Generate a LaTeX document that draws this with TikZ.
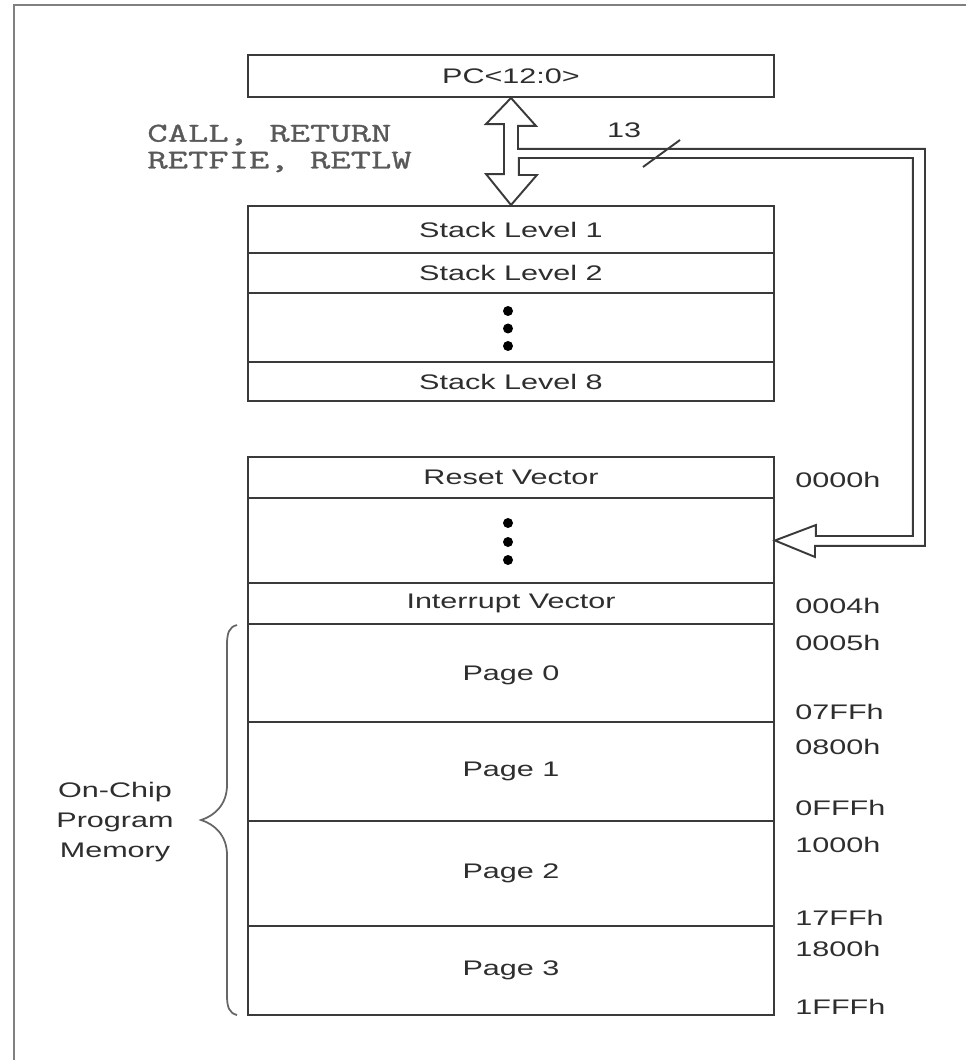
\documentclass[tikz,border=0pt]{standalone}
\usepackage{fontspec}
\setmainfont{Liberation Sans}[FakeStretch=1.45]
\newfontfamily\monof{Latin Modern Mono}[FakeStretch=1.45,FakeBold=1.2]
\usetikzlibrary{calc}
\definecolor{ink}{HTML}{3A3A3A}
\definecolor{txt}{HTML}{2E2E2E}
\begin{document}
\begin{tikzpicture}[x=0.02cm,y=0.02cm,
  row/.style={draw=ink, line width=1.1pt, minimum width=10.52cm, inner sep=0pt,
    font=\fontsize{12}{14}\selectfont, text=txt},
  addr/.style={anchor=west, inner sep=0pt, font=\fontsize{12}{14}\selectfont, text=txt},
  mono/.style={anchor=west, inner sep=0pt, font=\monof\fontsize{15.5}{17}\selectfont, text=black!65},
  dotc/.style={fill=black, draw=none}]
\useasboundingbox (0,0) rectangle (966,-1060);
% outer frame
\draw[black!50, line width=1.6pt] (14,-1060) -- (14,-5) -- (966,-5);
% PC
\node[row, minimum height=0.84cm] (pc) at (511,-76) {PC<12:0>};
% stack
\node[row, minimum height=0.94cm] (s1) at (511,-229.5) {Stack Level 1};
\node[row, minimum height=0.80cm] (s2) at (511,-273) {Stack Level 2};
\node[row, minimum height=1.38cm] (sd) at (511,-327.5) {};
\node[row, minimum height=0.78cm] (s8) at (511,-381.5) {Stack Level 8};
\fill[dotc] (508,-311) circle (5);
\fill[dotc] (508,-328.5) circle (5);
\fill[dotc] (508,-346) circle (5);
% memory
\node[row, minimum height=0.82cm] (rv) at (511,-477.5) {Reset Vector};
\node[row, minimum height=1.70cm] (md) at (511,-540.5) {};
\node[row, minimum height=0.82cm] (iv) at (511,-603.5) {Interrupt Vector};
\node[row, minimum height=1.96cm, text depth=-8pt] (p0) at (511,-673) {Page 0};
\node[row, minimum height=1.98cm] (p1) at (511,-771.5) {Page 1};
\node[row, minimum height=2.10cm] (p2) at (511,-873.5) {Page 2};
\node[row, minimum height=1.78cm] (p3) at (511,-970.5) {Page 3};
\fill[dotc] (508,-523) circle (5);
\fill[dotc] (508,-542) circle (5);
\fill[dotc] (508,-560) circle (5);
% hollow arrows and bus
\draw[ink, line width=1.1pt, line join=miter]
  (pc.south) -- ++(25,-28) -- ++(-18,0) -- ++(0,-23) -- ++(407,0)
  -- ++(0,-397) -- ++(-110,0) -- ++(0,-11) -- (md.east)
  -- ++(41,15.5) -- ++(0,-11) -- ++(97,0) -- ++(0,378) -- ++(-394,0)
  -- ++(0,-17) -- ++(18,0) -- (s1.north) -- ++(-25,31) -- ++(18,0)
  -- ++(0,50) -- ++(-18,0) -- cycle;
% bus width mark
\coordinate (sl1) at (643,-167);
\coordinate (sl2) at (680,-140);
\draw[ink, line width=1.1pt] (sl1) -- (sl2);
\node[addr, anchor=center] (n13) at (624,-130) {13};
% instruction labels
\node[mono] (call) at (147,-135) {CALL, RETURN};
\node[mono] (retf) at (147,-162) {RETFIE, RETLW};
% addresses
\node[addr] (a0) at (795,-480) {0000h};
\node[addr] (a4) at (795,-606) {0004h};
\node[addr] (a5) at (795,-643) {0005h};
\node[addr] (a7) at (795,-712) {07FFh};
\node[addr] (a8) at (795,-747) {0800h};
\node[addr] (af) at (795,-808) {0FFFh};
\node[addr] (b0) at (795,-845) {1000h};
\node[addr] (b7) at (795,-918) {17FFh};
\node[addr] (b8) at (795,-949) {1800h};
\node[addr] (bf) at (795,-1007) {1FFFh};
% brace
\draw[black!60, line width=1pt]
  (237,-625) .. controls (229,-627) and (227,-633) .. (227,-645) -- (227,-785)
  .. controls (227,-805) and (214,-816) .. (201,-820)
  .. controls (214,-824) and (227,-835) .. (227,-855) -- (227,-995)
  .. controls (227,-1007) and (229,-1013) .. (237,-1015);
\node[align=center, inner sep=0pt, font=\fontsize{12}{17}\selectfont, text=txt] (ocpm) at (115,-822) {On-Chip\\Program\\Memory};
\end{tikzpicture}
\end{document}
